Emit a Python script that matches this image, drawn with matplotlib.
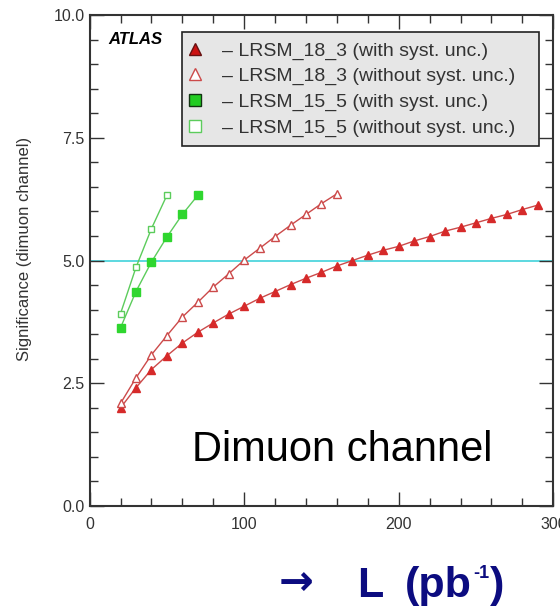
import matplotlib
matplotlib.use('Agg')
import matplotlib.pyplot as plt
from matplotlib.ticker import MultipleLocator, FormatStrFormatter
from matplotlib.lines import Line2D

plt.rcParams['font.family'] = ['Liberation Sans', 'DejaVu Sans']

# luminosity points (pb^-1) and expected significance
lumi_18_3 = [20, 30, 40, 50, 60, 70, 80, 90, 100, 110, 120, 130, 140, 150,
             160, 170, 180, 190, 200, 210, 220, 230, 240, 250, 260, 270, 280, 290]
sig_18_3_syst = [2.00, 2.41, 2.78, 3.06, 3.32, 3.54, 3.73, 3.91, 4.07, 4.23,
                 4.37, 4.51, 4.64, 4.76, 4.89, 5.00, 5.11, 5.21, 5.29, 5.40,
                 5.49, 5.60, 5.68, 5.77, 5.86, 5.94, 6.04, 6.13]
lumi_18_3_nosyst = [20, 30, 40, 50, 60, 70, 80, 90, 100, 110, 120, 130, 140, 150, 160]
sig_18_3_nosyst = [2.09, 2.61, 3.08, 3.47, 3.85, 4.15, 4.46, 4.73, 5.01, 5.25,
                   5.49, 5.72, 5.94, 6.16, 6.36]
lumi_15_5 = [20, 30, 40, 50, 60, 70]
sig_15_5_syst = [3.63, 4.37, 4.97, 5.48, 5.94, 6.33]
lumi_15_5_nosyst = [20, 30, 40, 50]
sig_15_5_nosyst = [3.92, 4.86, 5.65, 6.33]

labels = ['\u2013 LRSM_18_3 (with syst. unc.)',
          '\u2013 LRSM_18_3 (without syst. unc.)',
          '\u2013 LRSM_15_5 (with syst. unc.)',
          '\u2013 LRSM_15_5 (without syst. unc.)']

red = '#d62a2a'
red_line = '#cc4a4a'
green = '#2fd62f'
green_line = '#5ccc5c'
navy = '#0c0c80'

fig = plt.figure(figsize=(5.6, 6.06), dpi=100)
ax = fig.add_axes([0.160, 0.165, 0.828, 0.810])

ax.axhline(5.0, color='#5cd8e0', lw=1.4, zorder=1)

ax.plot(lumi_18_3, sig_18_3_syst, '-^', color=red_line, lw=1.0,
        ms=6, mfc=red, mec=red, zorder=3)
ax.plot(lumi_18_3_nosyst, sig_18_3_nosyst, '-^', color=red_line, lw=1.0,
        ms=6, mfc='white', mec=red_line, mew=1.0, zorder=3)
ax.plot(lumi_15_5, sig_15_5_syst, '-s', color=green_line, lw=1.0,
        ms=6, mfc=green, mec=green, zorder=3)
ax.plot(lumi_15_5_nosyst, sig_15_5_nosyst, '-s', color=green_line, lw=1.0,
        ms=5, mfc='white', mec=green_line, mew=1.0, zorder=3)

ax.set_xlim(0, 300)
ax.set_ylim(0, 10)
ax.xaxis.set_major_locator(MultipleLocator(100))
ax.xaxis.set_minor_locator(MultipleLocator(20))
ax.yaxis.set_major_locator(MultipleLocator(2.5))
ax.yaxis.set_minor_locator(MultipleLocator(0.5))
ax.yaxis.set_major_formatter(FormatStrFormatter('%.1f'))
ax.tick_params(which='both', direction='in', top=True, right=True,
               color='#333333', labelcolor='#333333', labelsize=11.5, width=1.0)
ax.tick_params(which='major', length=10)
ax.tick_params(which='minor', length=6)
ax.tick_params(axis='x', pad=8)
for sp in ax.spines.values():
    sp.set_color('#333333')
    sp.set_linewidth(1.5)

ax.set_ylabel('Significance (dimuon channel)', fontsize=12, color='#333333')
ax.yaxis.set_label_coords(-0.124, 0.523)

ax.text(0.04, 0.965, 'ATLAS', transform=ax.transAxes, fontsize=12,
        fontweight='bold', fontstyle='italic', va='top', ha='left')

handles = [
    Line2D([], [], ls='none', marker='^', ms=9, mfc='#cc1111', mec='#661111'),
    Line2D([], [], ls='none', marker='^', ms=9, mfc='white', mec=red_line, mew=1.0),
    Line2D([], [], ls='none', marker='s', ms=8, mfc='#22cc22', mec='#113311'),
    Line2D([], [], ls='none', marker='s', ms=8, mfc='white', mec=green_line, mew=1.0),
]
# legend box stretched across a fixed span in the upper right
leg = ax.legend(handles, labels, loc='upper left',
                bbox_to_anchor=(0.199, 0.70, 0.771, 0.265), mode='expand',
                fontsize=14, frameon=True, fancybox=False, framealpha=1,
                facecolor='#e6e6e6', edgecolor='#222222', borderpad=0.5,
                labelspacing=0.4, handletextpad=1.25, handlelength=0.3,
                borderaxespad=0)
leg.get_frame().set_linewidth(1.2)
for t in leg.get_texts():
    t.set_color('#333333')

ax.text(66, 0.92, 'Dimuon channel', fontsize=30, ha='left', va='baseline')

# axis caption below the plot: arrow, L (pb^-1)
base = 1 - 597 / 606
fig.text(279 / 560, 1 - 583 / 606, '\u2192', fontsize=30, color=navy,
         ha='left', va='center', family=['DejaVu Sans'], fontweight='bold')
fig.text(357 / 560, base, 'L', fontsize=31, color=navy, fontweight='bold',
         ha='left', va='baseline')
fig.text(405 / 560, base, '(pb', fontsize=31, color=navy, fontweight='bold',
         ha='left', va='baseline')
fig.text(473 / 560, 1 - 578 / 606, '-1', fontsize=13, color=navy, fontweight='bold',
         ha='left', va='baseline')
fig.text(490 / 560, base, ')', fontsize=31, color=navy, fontweight='bold',
         ha='left', va='baseline')

fig.savefig('out.png', dpi=100)
